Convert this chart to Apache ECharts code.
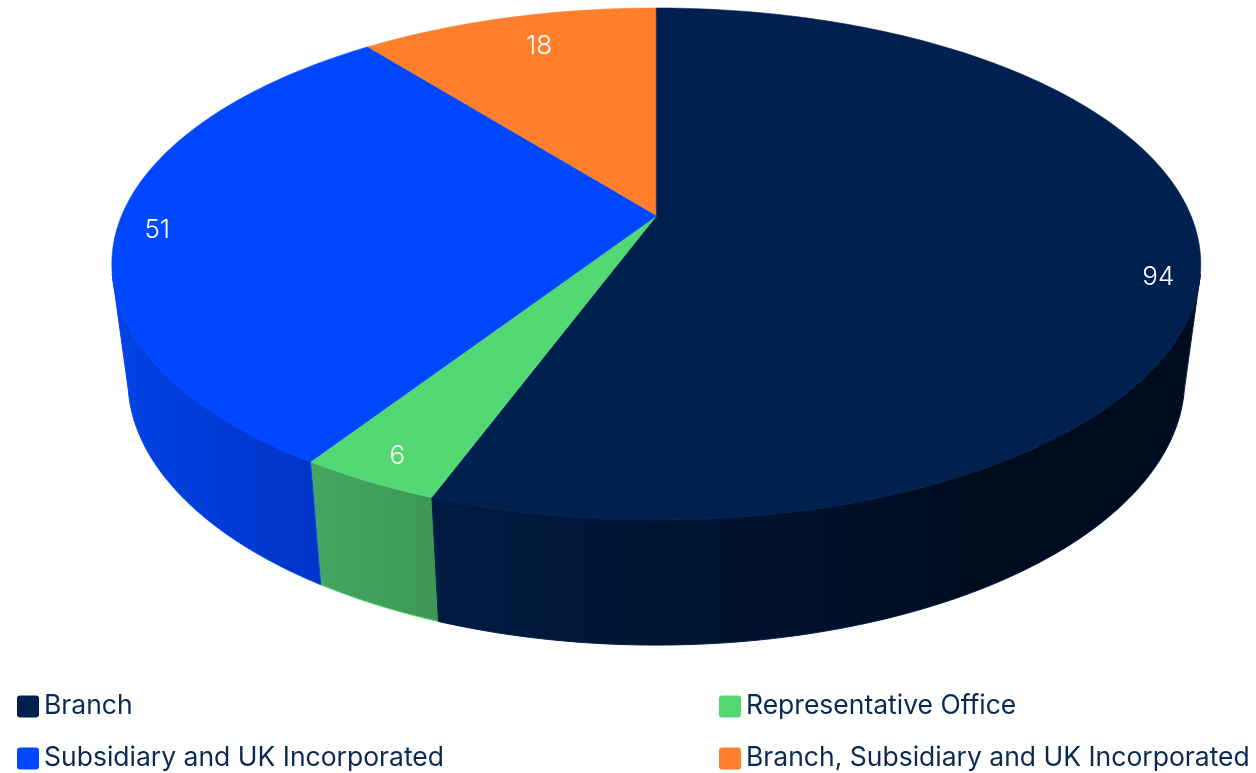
<!DOCTYPE html>
<html><head><meta charset="utf-8">
<style>html,body{margin:0;padding:0;background:#fff}#c{width:1256px;height:773px}</style>
<script src="https://cdn.jsdelivr.net/npm/echarts@6/dist/echarts.min.js"></script>
</head><body><div id="c"></div>
<script>
const categories = ['Branch','Representative Office','Subsidiary and UK Incorporated','Branch, Subsidiary and UK Incorporated'];
const values = [94,6,51,18];
const topColors = ['#00214f','#54d874','#0047ff','#ff7f2d'];
const wallStops = [
  [[0,'#001b42'],[0.25,'#001535'],[0.75,'#000c1d'],[1,'#000d1f']],
  [[0,'#45a561'],[1,'#3d9855']],
  [[0,'#0143e6'],[1,'#0034c6']],
  [[0,'#cc6624'],[1,'#cc6624']]
];
const labelReach = [0.927,0.915,0.926,0.84];
const labelTurn = [4.2,0,-0.3,1.7];
const legendLefts = [17,719,17,719];
const legendTops = [693,693,745,745];

const persp = 0.1875;
const wallRange = [103,257];
const topDisc = {cx:656.3, cy:216, a:534.8, b:247};
const baseDisc = {cx:656.3, cy:330, a:519, b:256};
const total = values.reduce((s,v)=>s+v,0);
const startDeg = values.map((_,i)=>values.slice(0,i).reduce((s,v)=>s+v,0)/total*360);
const endDeg = values.map((v,i)=>startDeg[i]+v/total*360);

function project(disc,deg,r){
  const t=deg*Math.PI/180, u=r*Math.sin(t), v=-r*Math.cos(t), w=1-persp*v;
  return [disc.cx+disc.a*u/w, disc.cy+disc.b*v/w];
}
function arc(disc,from,to){
  const n=Math.max(2,Math.ceil(Math.abs(to-from)/1)), pts=[];
  for(let i=0;i<=n;i++) pts.push(project(disc,from+(to-from)*i/n,1));
  return pts;
}
function renderSlice(i){
  const kids=[];
  const wFrom=Math.max(startDeg[i],wallRange[0]), wTo=Math.min(endDeg[i],wallRange[1]);
  if(wTo>wFrom){
    const pts=arc(topDisc,wFrom,wTo).concat(arc(baseDisc,wFrom,wTo).reverse());
    kids.push({type:'polygon',z2:i===1?1:2,shape:{points:pts},style:{
      fill:{type:'linear',x:0,y:0,x2:1,y2:0,colorStops:wallStops[i].map(s=>({offset:s[0],color:s[1]}))},
      stroke:topColors[i],lineWidth:1}});
  }
  const top=[[topDisc.cx,topDisc.cy]].concat(arc(topDisc,startDeg[i],endDeg[i]));
  kids.push({type:'polygon',z2:i===3?3:4,shape:{points:top},style:{fill:topColors[i],stroke:topColors[i],lineWidth:0.6}});
  const p=project(topDisc,(startDeg[i]+endDeg[i])/2+labelTurn[i],labelReach[i]);
  kids.push({type:'text',z2:10,style:{x:p[0],y:p[1]+2,text:String(values[i]),fill:'#ffffff',
    font:'300 26px Inter',textAlign:'center',textVerticalAlign:'middle'}});
  return {type:'group',children:kids};
}
const legendIcon='path://M3 0H19Q22 0 22 3V19Q22 22 19 22H3Q0 22 0 19V3Q0 0 3 0Z';
const chart=echarts.init(document.getElementById('c'),null,{renderer:'canvas'});
chart.setOption({
  animation:false,
  backgroundColor:'#ffffff',
  legend:categories.map((name,i)=>({
    data:[name],left:legendLefts[i],top:legendTops[i],padding:0,
    itemWidth:22,itemHeight:22,itemGap:0,icon:legendIcon,selectedMode:false,
    textStyle:{fontFamily:'Inter',fontSize:26.5,color:'#0b2852',padding:[0,0,2,0]}
  })),
  series:categories.map((name,i)=>({
    type:'custom',name,coordinateSystem:'none',
    itemStyle:{color:topColors[i]},
    data:[values[i]],
    renderItem:()=>renderSlice(i),
    silent:true
  }))
});
</script></body></html>
